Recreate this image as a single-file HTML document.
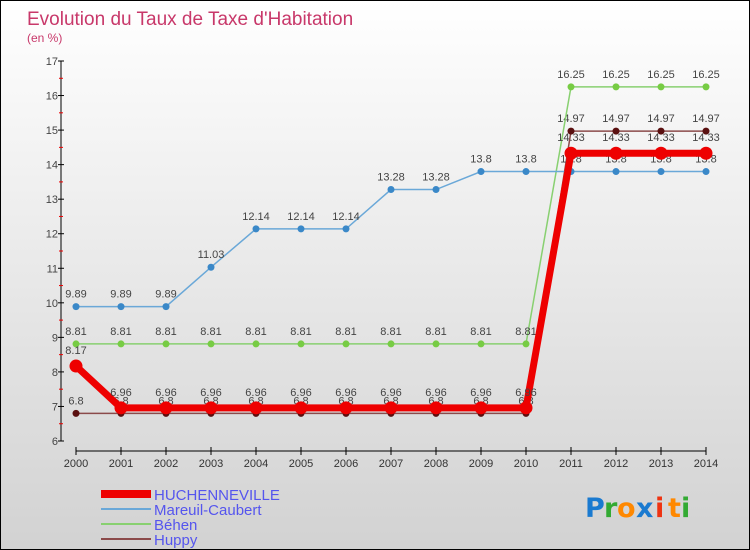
<!DOCTYPE html>
<html><head><meta charset="utf-8"><style>
body{margin:0}
#c{width:748px;height:548px;border:1px solid #000;background:linear-gradient(#fff,#d2d2d2);position:relative;font-family:"Liberation Sans",sans-serif;overflow:hidden}
</style></head><body>
<div id="c">
<svg id="s" width="748" height="548"></svg>
</div>
<script>
const years=[2000,2001,2002,2003,2004,2005,2006,2007,2008,2009,2010,2011,2012,2013,2014];
const huchenneville=[8.17,6.96,6.96,6.96,6.96,6.96,6.96,6.96,6.96,6.96,6.96,14.33,14.33,14.33,14.33];
const mareuil=[9.89,9.89,9.89,11.03,12.14,12.14,12.14,13.28,13.28,13.8,13.8,13.8,13.8,13.8,13.8];
const behen=[8.81,8.81,8.81,8.81,8.81,8.81,8.81,8.81,8.81,8.81,8.81,16.25,16.25,16.25,16.25];
const huppy=[6.8,6.8,6.8,6.8,6.8,6.8,6.8,6.8,6.8,6.8,6.8,14.97,14.97,14.97,14.97];
const yTicks=[6,7,8,9,10,11,12,13,14,15,16,17];
const NS="http://www.w3.org/2000/svg",s=document.getElementById('s');
const X=i=>75+i*45, Y=v=>440-(v-6)*(380/11);
function el(t,a,name,txt){const e=document.createElementNS(NS,t);for(const k in a)e.setAttribute(k,a[k]);


if(txt!==undefined)e.textContent=txt;s.appendChild(e);return e;}
el('text',{x:26,y:24,'font-size':19,fill:'#c8386a'},'chart-title','Evolution du Taux de Taxe d\'Habitation');
el('text',{x:26,y:41,'font-size':12,fill:'#c8386a'},'chart-subtitle','(en %)');
el('line',{x1:60,y1:60,x2:60,y2:440,stroke:'#000'},'y-axis');
yTicks.forEach(v=>{el('line',{x1:57,y1:Y(v),x2:63,y2:Y(v),stroke:'#000'},'y-tick');
el('text',{x:57,y:Y(v)+4,'font-size':11,fill:'#444','text-anchor':'end'},'y-tick-label',v);
if(v<17)el('line',{x1:58,y1:Y(v+0.5),x2:62,y2:Y(v+0.5),stroke:'#e00'},'y-minor-tick');});
el('line',{x1:75,y1:450,x2:705,y2:450,stroke:'#000'},'x-axis');
years.forEach((y,i)=>{el('line',{x1:X(i),y1:446,x2:X(i),y2:454,stroke:'#000'},'x-tick');
el('text',{x:X(i),y:466,'font-size':11,fill:'#333','text-anchor':'middle'},'x-tick-label',y);});
function series(d,col,w,r,dot,name,lab,dy){
el('polyline',{points:d.map((v,i)=>X(i)+','+Y(v)).join(' '),fill:'none',stroke:col,'stroke-width':w},name+'-line');
d.forEach((v,i)=>{el('circle',{cx:X(i),cy:Y(v),r:r,fill:dot},name+'-point');
el('text',{x:X(i),y:Y(v)+dy,'font-size':11,fill:lab,'text-anchor':'middle'},name+'-value',v);});}
series(huppy,'#8b4a4a',1.5,3.5,'#5a1010','huppy','#444',-9);
series(behen,'#88d070',1.5,3.5,'#77cc44','behen','#444',-9);
series(mareuil,'#6aa8d8',1.5,3.5,'#3a88c8','mareuil','#444',-9);
series(huchenneville,'#ee0000',7,6.5,'#ee0000','huchenneville','#444',-12);
const leg=[['HUCHENNEVILLE','#ee0000',8],['Mareuil-Caubert','#6aa8d8',2],['Béhen','#88d070',2],['Huppy','#8b4a4a',2]];
leg.forEach((l,i)=>{const y=493+i*15;el('line',{x1:100,y1:y,x2:150,y2:y,stroke:l[1],'stroke-width':l[2]},'legend-swatch');
el('text',{x:153,y:y+6,'font-size':15,fill:'#5555ee'},'legend-entry',l[0]);});
const logo=[['P','#1a7ad0'],['r','#33aa33'],['o','#ff8800'],['x','#1a7ad0'],['i','#ee3311'],['t','#ff8800'],['i','#33aa33']];
let lx=584;logo.forEach(c=>{el('text',{x:lx,y:516,'font-size':27,'font-weight':'bold',fill:c[1],'font-family':'DejaVu Sans'},'logo-letter',c[0]);lx+=c[0]=='i'||c[0]=='t'||c[0]=='r'?13:19;});
</script>
</body></html>
